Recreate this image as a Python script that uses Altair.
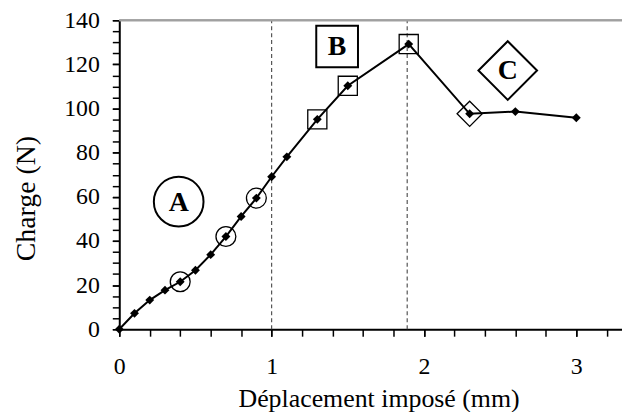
import altair as alt
import pandas as pd

# Data
displacement = [0, 0.1, 0.2, 0.3, 0.4, 0.5, 0.6, 0.7, 0.8, 0.9, 1.0, 1.1, 1.3, 1.5, 1.9, 2.3, 2.6, 3.0]
load = [0, 7.2, 13.2, 17.7, 21.5, 26.7, 33.8, 42.0, 51.1, 59.4, 69.1, 78.1, 95.1, 110.3, 129.2, 97.6, 98.6, 95.8]
marker = ["", "", "", "", "circle", "", "", "circle", "", "circle", "", "",
          "square", "square", "square", "diamond", "", ""]

dashed_x = [1.0, 1.89]

ann_labels = ["A", "B", "C"]
ann_x = [0.39, 1.43, 2.55]
ann_y = [57.8, 128.1, 117.2]

x_major = [0, 1, 2, 3]
x_minor = [round(i * 0.2, 1) for i in range(17)]
y_major = list(range(0, 141, 20))
y_minor = list(range(0, 145, 5))

FONT = "Liberation Serif"
XMAX = 3.3
YMAX = 140

df = pd.DataFrame({"x": displacement, "y": load, "m": marker})
dash_df = pd.DataFrame({"x": dashed_x})
ann_df = pd.DataFrame({"label": ann_labels, "x": ann_x, "y": ann_y})

xscale = alt.Scale(domain=[0, XMAX], nice=False, zero=False)
yscale = alt.Scale(domain=[0, YMAX], nice=False)

common = dict(grid=False, tickSize=7, tickWidth=1.5, tickColor="black",
              domainColor="black", domainWidth=2, labelOverlap=False, labelFlush=False)

x_axis = alt.Axis(
    orient="bottom", title="Déplacement imposé (mm)", values=x_major, format="d",
    labelFont=FONT, labelFontSize=24, labelColor="black", labelPadding=19,
    titleFont=FONT, titleFontSize=26, titleFontWeight="normal", titleColor="black",
    titleX=261, titleY=78, titleBaseline="alphabetic", titleAlign="center", titleAnchor="start",
    **common,
)
x_axis_minor = alt.Axis(orient="bottom", title=None, values=x_minor, labels=False, domain=False,
                        grid=False, tickSize=7, tickWidth=1.5, tickColor="black")
y_axis = alt.Axis(
    orient="left", title="Charge (N)", values=y_major, format="d",
    labelFont=FONT, labelFontSize=24, labelColor="black", labelPadding=13,
    titleFont=FONT, titleFontSize=28, titleFontWeight="normal", titleColor="black",
    titleX=-85, titleY=179, titleAngle=270, titleBaseline="alphabetic", titleAlign="center", titleAnchor="start",
    **common,
)
y_axis_minor = alt.Axis(orient="left", title=None, values=y_minor, labels=False, domain=False,
                        grid=False, tickSize=7, tickWidth=1.5, tickColor="black")

X = alt.X("x:Q", scale=xscale, axis=None)
Y = alt.Y("y:Q", scale=yscale, axis=None)

base = alt.Chart(df)

# axis carriers
axes_main = base.mark_point(opacity=0).encode(
    x=alt.X("x:Q", scale=xscale, axis=x_axis), y=alt.Y("y:Q", scale=yscale, axis=y_axis))
axes_minor = base.mark_point(opacity=0).encode(
    x=alt.X("x:Q", scale=xscale, axis=x_axis_minor), y=alt.Y("y:Q", scale=yscale, axis=y_axis_minor))

line = base.mark_line(color="black", strokeWidth=2).encode(x=X, y=Y)

dots = base.mark_point(shape="diamond", filled=True, color="black", size=80, opacity=1).encode(x=X, y=Y)

def hollow(kind, size):
    return base.transform_filter(alt.datum.m == kind).mark_point(
        shape=kind, filled=False, color="black", strokeWidth=1.3, size=size, opacity=1
    ).encode(x=X, y=Y)

h_circle = hollow("circle", 400)
h_square = hollow("square", 370)
h_diamond = hollow("diamond", 640)

dashes = alt.Chart(dash_df).mark_rule(color="#555555", strokeWidth=1.2, strokeDash=[4, 3]).encode(
    x=X, y=alt.YDatum(0, scale=yscale, axis=None), y2=alt.Y2Datum(YMAX)
)

top_line = alt.Chart(dash_df).mark_rule(color="#a0a0a0", strokeWidth=2).encode(
    y=alt.YDatum(YMAX, scale=yscale, axis=None),
    x=alt.XDatum(0, scale=xscale, axis=None), x2=alt.X2Datum(XMAX)
)

def ann_shape(label, shape, size):
    return alt.Chart(ann_df).transform_filter(alt.datum.label == label).mark_point(
        shape=shape, filled=False, color="black", strokeWidth=2, size=size, opacity=1
    ).encode(x=X, y=Y)

ann_a = ann_shape("A", "circle", 2500)
ann_b = ann_shape("B", "square", 1764)
ann_c = ann_shape("C", "diamond", 3481)

ann_text = alt.Chart(ann_df).mark_text(
    font=FONT, fontSize=28, fontWeight="bold", color="black", baseline="middle", align="center", dy=1
).encode(x=X, y=Y, text="label:N")

chart = alt.layer(
    axes_minor, axes_main, dashes, top_line, line, dots, h_circle, h_square, h_diamond,
    ann_a, ann_b, ann_c, ann_text
).resolve_axis(x="independent", y="independent").properties(
    width=506, height=311,
    autosize=alt.AutoSizeParams(type="none"),
    padding={"left": 112, "top": 11, "right": 0, "bottom": 82},
).configure_view(stroke=None).configure(background="white")

chart.save("out.html", embed_options={"renderer": "svg", "actions": False})
